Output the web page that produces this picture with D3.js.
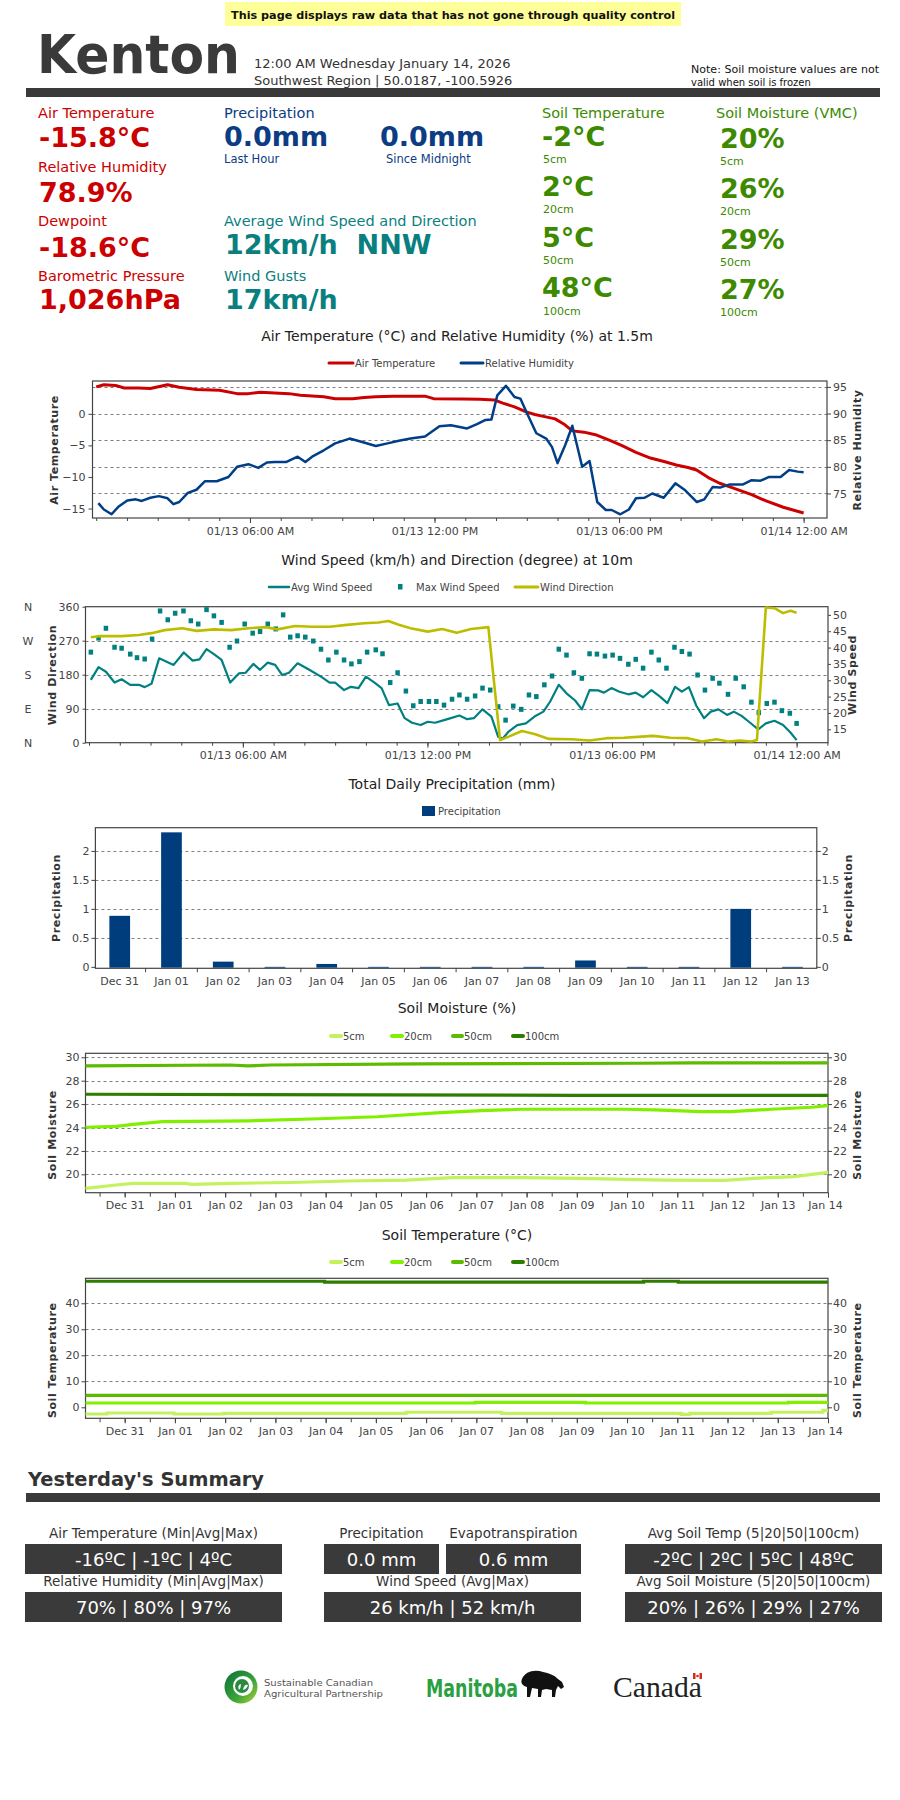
<!DOCTYPE html>
<html><head><meta charset="utf-8">
<script src="https://cdn.jsdelivr.net/npm/d3@7/dist/d3.min.js"></script>
<style>
body{margin:0;background:#fff;}
svg{font-family:"DejaVu Sans",Verdana,sans-serif;}
</style></head>
<body><svg id="page" width="900" height="1800"></svg>
<script>
// ---------------- DATA ----------------
const stationName = "Kenton";
const stampLines = ["12:00 AM Wednesday January 14, 2026", "Southwest Region | 50.0187, -100.5926"];
const nowAir = ["-15.8°C", "78.9%", "-18.6°C", "1,026hPa"];
const nowAirLabels = ["Air Temperature", "Relative Humidity", "Dewpoint", "Barometric Pressure"];
const nowPrecip = ["0.0mm", "0.0mm"];
const nowPrecipLabels = ["Last Hour", "Since Midnight"];
const nowWind = ["12km/h\u00a0\u00a0NNW", "17km/h"];
const soilDepths = ["5cm", "20cm", "50cm", "100cm"];
const nowSoilTemp = ["-2°C", "2°C", "5°C", "48°C"];
const nowSoilMoist = ["20%", "26%", "29%", "27%"];

// Chart 1: hours since 01/13 00:00
const airTempHours = [1.0,1.25,1.63,1.91,2.38,2.76,3.32,3.70,4.26,5.01,5.58,5.95,6.33,7.27,7.64,8.40,8.77,9.34,9.71,10.09,10.65,11.69,11.97,12.91,13.47,13.94,14.22,14.60,14.98,15.26,15.54,15.92,16.20,16.48,16.86,17.23,17.70,18.08,18.55,19.02,19.49,19.86,20.24,20.52,20.90,21.27,21.74,22.31,22.78,23.34,24.0];
const airTempValues = [4.27,4.6,4.5,4.1,4.1,4.0,4.6,4.2,3.85,3.75,3.2,3.2,3.4,3.2,2.95,2.7,2.4,2.4,2.6,2.7,2.8,2.8,2.4,2.35,2.3,2.2,1.7,1.1,0.3,-0.1,-0.4,-0.8,-1.6,-2.7,-2.9,-3.3,-4.2,-5.0,-6.1,-7.0,-7.6,-8.1,-8.5,-8.9,-10.1,-11.0,-11.8,-12.8,-13.8,-14.8,-15.7];
const rhHours = [1.07,1.25,1.50,1.72,2.01,2.29,2.48,2.76,3.04,3.32,3.51,3.70,3.98,4.26,4.54,4.92,5.30,5.58,5.95,6.27,6.55,6.80,7.17,7.55,7.80,8.02,8.40,8.77,9.24,9.62,10.09,10.47,10.84,11.22,11.69,12.16,12.53,13.06,13.38,13.66,13.85,14.04,14.32,14.60,14.79,15.01,15.31,15.63,15.82,16.00,16.25,16.48,16.80,17.04,17.29,17.57,17.76,18.04,18.32,18.55,18.83,19.08,19.45,19.83,20.15,20.53,20.77,21.04,21.28,21.60,22.03,22.31,22.60,22.88,23.25,23.53,23.81,24.00];
const rhValues = [73.2,72.0,71.1,72.5,73.7,73.9,73.6,74.2,74.5,74.1,73.0,73.4,75.1,75.7,77.3,77.3,78.1,80.0,80.5,79.8,80.8,80.9,80.9,81.9,80.9,81.9,83.1,84.4,85.3,84.7,83.9,84.4,84.9,85.3,85.7,87.6,87.8,87.2,88.0,88.8,88.9,93.4,95.2,93.1,92.8,90.0,86.3,85.3,83.7,80.7,84.1,87.7,80.0,81.1,73.4,71.9,71.9,71.1,72.0,74.1,74.2,75.0,74.2,76.9,75.6,73.4,73.9,76.2,76.1,76.7,76.7,77.5,77.4,78.1,78.1,79.4,79.1,79.0];
const airTempTicks = [0, -5, -10, -15];
const rhTicks = [75, 80, 85, 90, 95];

// Chart 2
const windAvgHours = [1.06,1.31,1.55,1.83,2.06,2.34,2.62,2.81,3.03,3.28,3.75,4.08,4.37,4.59,4.82,5.06,5.31,5.59,5.87,6.09,6.34,6.56,6.81,7.05,7.28,7.50,7.78,8.16,8.54,8.82,9.00,9.29,9.51,9.76,10.00,10.28,10.51,10.75,11.03,11.26,11.50,11.78,12.01,12.25,12.54,12.76,13.04,13.29,13.51,13.79,14.08,14.30,14.45,14.64,14.92,15.20,15.48,15.77,15.99,16.27,16.52,16.80,17.02,17.27,17.55,17.74,17.98,18.24,18.53,18.77,19.01,19.28,19.56,19.80,20.05,20.27,20.50,20.74,20.99,21.21,21.46,21.74,21.96,22.21,22.49,22.75,23.00,23.28,23.56,23.80,24.00];
const windAvgValues = [30.1,34.0,32.6,29.3,30.3,28.6,28.6,27.9,28.9,36.7,34.7,38.5,36.0,36.4,39.5,38.0,36.2,29.3,32.1,32.3,35.0,33.2,35.4,34.7,31.6,32.3,35.2,33.2,31.1,29.3,29.3,27.0,28.0,27.6,31.1,29.3,27.6,22.4,22.9,18.4,17.0,16.3,17.3,17.0,17.8,18.4,19.2,18.1,18.4,21.1,18.9,12.7,12.2,14.3,16.3,16.8,18.9,20.4,23.5,28.6,26.0,23.8,21.1,27.0,26.9,26.2,27.6,26.5,25.7,26.2,24.8,27.0,25.0,23.0,28.0,26.5,27.9,22.2,18.4,20.4,21.1,19.4,20.4,19.1,17.0,15.0,16.8,17.6,16.3,14.0,11.7];
const windMaxHours = [1.06,1.31,1.55,1.83,2.06,2.34,2.56,2.81,3.05,3.31,3.56,3.80,4.07,4.31,4.55,4.82,5.06,5.31,5.57,5.81,6.06,6.32,6.56,6.81,7.07,7.31,7.54,7.78,8.03,8.29,8.54,8.78,9.04,9.29,9.53,9.79,10.04,10.32,10.54,10.79,11.03,11.30,11.54,11.78,12.05,12.29,12.54,12.80,13.04,13.29,13.55,13.79,14.04,14.30,14.54,14.79,15.05,15.30,15.54,15.80,16.05,16.27,16.52,16.76,17.02,17.27,17.51,17.77,18.02,18.26,18.53,18.77,19.01,19.28,19.52,19.77,20.03,20.27,20.52,20.78,21.02,21.27,21.49,21.77,22.02,22.28,22.53,22.77,23.03,23.28,23.52,23.78,24.00];
const windMaxValues = [38.6,42.9,45.9,40.1,39.8,38.0,36.9,36.5,42.6,51.2,48.5,50.5,51.2,48.2,47.2,51.6,49.7,47.7,40.1,42.0,47.2,44.4,44.9,47.2,45.7,50.0,43.2,43.6,43.2,42.0,39.5,36.2,38.6,36.2,35.0,35.7,38.6,39.3,38.1,29.3,32.3,26.7,22.2,23.5,23.5,23.5,22.4,24.2,25.5,24.2,25.2,27.6,27.0,21.9,17.8,22.1,21.1,25.5,25.0,28.6,31.3,39.5,37.7,32.3,30.6,38.1,38.0,37.4,37.7,36.7,34.9,36.4,33.7,38.6,36.2,33.7,40.1,38.8,38.0,31.6,27.0,30.6,29.1,25.7,30.6,28.0,23.3,20.1,22.9,23.3,20.7,19.9,16.8];
const windDirHours = [1.06,1.31,2.06,2.62,3.03,3.46,4.03,4.50,5.06,5.62,6.19,6.75,7.13,7.69,8.25,8.82,9.38,9.94,10.41,10.73,11.07,11.45,12.01,12.48,12.95,13.42,13.98,14.36,14.64,15.07,15.48,15.95,16.70,17.27,17.83,18.39,18.96,19.33,19.90,20.46,20.93,21.40,21.77,22.15,22.53,22.71,23.00,23.28,23.56,23.80,24.00];
const windDirValues = [279,282,282,285,290,298,303,296,300,298,303,306,300,309,307,307,312,316,318,322,312,303,294,301,291,301,306,7,16,31,23,10,9,6,12,13,16,18,13,12,3,9,3,6,3,7,358,356,343,349,344];
const dirTicks = [0, 90, 180, 270, 360];
const compassLetters = ["N", "E", "S", "W", "N"];
const windSpeedTicks = [15, 20, 25, 30, 35, 40, 45, 50];

// Chart 3
const precipDays = ["Dec 31","Jan 01","Jan 02","Jan 03","Jan 04","Jan 05","Jan 06","Jan 07","Jan 08","Jan 09","Jan 10","Jan 11","Jan 12","Jan 13"];
const precipValues = [0.88,2.32,0.09,0,0.05,0,0,0,0,0.11,0,0,1.0,0];
const precipTicks = [0, 0.5, 1, 1.5, 2];

// Chart 4 & 5: days since Dec 31 00:00
const moist5 = [[-0.78,18.8],[-0.17,19.09],[0.17,19.23],[1.21,19.23],[1.33,19.15],[2.13,19.23],[3.29,19.3],[4.44,19.43],[5.60,19.51],[6.52,19.71],[7.91,19.71],[9.06,19.66],[9.98,19.57],[10.79,19.51],[11.94,19.48],[12.52,19.66],[13.33,19.8],[14.0,20.17]];
const moist20 = [[-0.78,24.02],[-0.17,24.1],[0.17,24.27],[0.75,24.5],[2.48,24.57],[3.87,24.75],[5.02,24.92],[6.29,25.27],[7.10,25.44],[7.91,25.56],[9.98,25.56],[10.56,25.5],[11.48,25.35],[12.06,25.35],[12.87,25.56],[13.68,25.73],[14.0,25.87]];
const moist50 = [[-0.78,29.26],[2.1,29.34],[2.45,29.26],[2.9,29.34],[5.83,29.43],[10.2,29.49],[11.3,29.52],[14.0,29.52]];
const moist100 = [[-0.78,26.84],[9.0,26.75],[14.0,26.75]];
const moistTicks = [20, 22, 24, 26, 28, 30];
const stemp5 = [[-0.78,-2.58],[-0.35,-2.2],[0.98,-2.58],[1.96,-2.3],[5.6,-1.9],[7.5,-2.3],[11.08,-2.7],[11.25,-2.3],[12.87,-1.9],[13.9,-1.2],[14.0,-1.2]];
const stemp20 = [[-0.78,1.65],[6.98,1.9],[9.17,1.65],[13.21,1.9],[14.0,1.9]];
const stemp50 = [[-0.78,4.6],[14.0,4.6]];
const stemp100 = [[-0.78,48.46],[3.98,48.1],[10.33,48.46],[11.02,48.1],[14.0,48.1]];
const stempTicks = [0, 10, 20, 30, 40];

// Summary
const summaryLabels = ["Air Temperature (Min|Avg|Max)", "Relative Humidity (Min|Avg|Max)", "Precipitation", "Evapotranspiration", "Wind Speed (Avg|Max)", "Avg Soil Temp (5|20|50|100cm)", "Avg Soil Moisture (5|20|50|100cm)"];
const summaryValues = ["-16ºC | -1ºC | 4ºC", "70% | 80% | 97%", "0.0 mm", "0.6 mm", "26 km/h | 52 km/h", "-2ºC | 2ºC | 5ºC | 48ºC", "20% | 26% | 29% | 27%"];

// ---------------- DRAWING ----------------
const svg = d3.select("#page");
const RED = "#cc0000", BLUE = "#0b3c84", TEAL = "#0a7f7f", GREEN = "#3d8a00";
const C_TEMP = "#cc0000", C_RH = "#003f87", C_AVG = "#008080", C_DIR = "#bdbd00", C_PREC = "#003d7d";
const C_S = ["#c3f25e", "#80f000", "#5cba00", "#2f7d00"];

function T(p, x, y, s, o = {}) {
  const t = p.append("text").attr("x", x).attr("y", y).text(s)
    .attr("font-size", o.size || 12).attr("fill", o.fill || "#333");
  if (o.weight) t.attr("font-weight", o.weight);
  if (o.anchor) t.attr("text-anchor", o.anchor);
  if (o.len) t.attr("textLength", o.len).attr("lengthAdjust", "spacingAndGlyphs");
  if (o.family) t.style("font-family", o.family);
  return t;
}

// Header
svg.append("rect").attr("x", 225).attr("y", 2).attr("width", 456).attr("height", 24).attr("fill", "#ffff99");
T(svg, 453, 19, "This page displays raw data that has not gone through quality control", {size: 11, weight: "bold", anchor: "middle", fill: "#111", len: 444});
T(svg, 37, 73, stationName, {size: 54, weight: "bold", fill: "#3a3a3a", len: 203});
T(svg, 254, 68, stampLines[0], {size: 13, fill: "#333"});
T(svg, 254, 85, stampLines[1], {size: 13, fill: "#333"});
T(svg, 691, 73, "Note: Soil moisture values are not", {size: 10, fill: "#111", len: 188});
T(svg, 691, 86, "valid when soil is frozen", {size: 10, fill: "#111"});
svg.append("rect").attr("x", 26).attr("y", 88).attr("width", 854).attr("height", 9).attr("fill", "#3a3a3a");

// Current conditions
const labY = [118, 172, 226, 281], valY = [147, 202, 257, 309];
nowAirLabels.forEach((l, i) => {
  T(svg, 38, labY[i], l, {size: 14.5, fill: RED});
  T(svg, 39, valY[i], nowAir[i], {size: 27, weight: "bold", fill: RED});
});
T(svg, 224, 118, "Precipitation", {size: 14.5, fill: BLUE});
T(svg, 224, 146, nowPrecip[0], {size: 27, weight: "bold", fill: BLUE});
T(svg, 380, 146, nowPrecip[1], {size: 27, weight: "bold", fill: BLUE});
T(svg, 224, 163, nowPrecipLabels[0], {size: 11.5, fill: BLUE});
T(svg, 386, 163, nowPrecipLabels[1], {size: 11.5, fill: BLUE});
T(svg, 224, 226, "Average Wind Speed and Direction", {size: 14.5, fill: TEAL});
T(svg, 225, 254, nowWind[0], {size: 27, weight: "bold", fill: TEAL});
T(svg, 224, 281, "Wind Gusts", {size: 14.5, fill: TEAL});
T(svg, 225, 309, nowWind[1], {size: 27, weight: "bold", fill: TEAL});
T(svg, 542, 118, "Soil Temperature", {size: 14.5, fill: GREEN});
T(svg, 716, 118, "Soil Moisture (VMC)", {size: 14.5, fill: GREEN});
const stY = [146, 196, 247, 297], stDY = [163, 213, 264, 315];
const smY = [148, 198, 249, 299], smDY = [165, 215, 266, 316];
soilDepths.forEach((d, i) => {
  T(svg, 542, stY[i], nowSoilTemp[i], {size: 27, weight: "bold", fill: GREEN});
  T(svg, 543, stDY[i], d, {size: 11, fill: GREEN});
  T(svg, 720, smY[i], nowSoilMoist[i], {size: 27, weight: "bold", fill: GREEN});
  T(svg, 720, smDY[i], d, {size: 11, fill: GREEN});
});

// helpers for charts
const hr = h => new Date(2026, 0, 13, 0, 0, 0).getTime() + h * 3600e3;
const dy = d => new Date(2025, 11, 31, 0, 0, 0).getTime() + d * 86400e3;
function styleAxis(sel, noDomain = true) {
  sel.selectAll("text").attr("font-size", 11).attr("fill", "#444").style("font-family", '"DejaVu Sans", Verdana, sans-serif');
  sel.selectAll("line").attr("stroke", "#444");
  if (noDomain) sel.select(".domain").remove();
}
function grid(g, y, vals, L, R) {
  g.selectAll(null).data(vals).enter().append("line")
    .attr("x1", L).attr("x2", R).attr("y1", d => Math.round(y(d)) + 0.5).attr("y2", d => Math.round(y(d)) + 0.5)
    .attr("stroke", "#808080").attr("stroke-width", 1).attr("stroke-dasharray", "3,3");
}
function frame(g, L, R, Tp, B) {
  g.append("rect").attr("x", L).attr("y", Tp).attr("width", R - L).attr("height", B - Tp)
    .attr("fill", "none").attr("stroke", "#444").attr("stroke-width", 1.2);
}
function vtitle(g, x, y, s) {
  g.append("text").attr("transform", `translate(${x},${y}) rotate(-90)`).attr("text-anchor", "middle")
    .attr("font-size", 11).attr("font-weight", "bold").attr("fill", "#333").attr("letter-spacing", 0.6).text(s);
}
function title(g, x, y, s) { T(g, x, y, s, {size: 14, anchor: "middle", fill: "#222"}); }
function legLine(g, x1, x2, y, c, w = 3) {
  g.append("line").attr("x1", x1).attr("x2", x2).attr("y1", y).attr("y2", y).attr("stroke", c).attr("stroke-width", w).attr("stroke-linecap", "round");
}

// ---- Chart 1 ----
{
  const g = svg.append("g");
  const L = 92.5, R = 827, Tp = 381, B = 518;
  const x = d3.scaleTime().domain([hr(0.88), hr(24.76)]).range([L, R]);
  const yL = d3.scaleLinear().domain([-16.5, 5.2]).range([B, Tp]);
  const yR = d3.scaleLinear().domain([70.4, 96.1]).range([B, Tp]);
  title(g, 457, 341, "Air Temperature (°C) and Relative Humidity (%) at 1.5m");
  legLine(g, 329, 353, 363, C_TEMP); T(g, 355, 367, "Air Temperature", {size: 10, fill: "#444"});
  legLine(g, 461, 483, 363, C_RH); T(g, 485, 367, "Relative Humidity", {size: 10, fill: "#444"});
  grid(g, yR, rhTicks, L, R);
  frame(g, L, R, Tp, B);
  g.append("g").attr("transform", `translate(${L},0)`).call(d3.axisLeft(yL).tickValues(airTempTicks).tickSize(4).tickPadding(3)).call(styleAxis);
  g.append("g").attr("transform", `translate(${R},0)`).call(d3.axisRight(yR).tickValues(rhTicks).tickSize(4).tickPadding(2)).call(styleAxis);
  g.append("g").attr("transform", `translate(0,${B})`).call(d3.axisBottom(x).ticks(d3.timeHour.every(1)).tickFormat("").tickSize(3)).call(styleAxis);
  g.append("g").attr("transform", `translate(0,${B})`).call(d3.axisBottom(x).ticks(d3.timeHour.every(6)).tickFormat(d3.timeFormat("%m/%d %I:%M %p")).tickSize(5).tickPadding(4)).call(styleAxis);
  vtitle(g, 58, 450, "Air Temperature");
  vtitle(g, 861, 450, "Relative Humidity");
  const lt = d3.line().x(d => x(hr(d[0]))).y(d => yL(d[1]));
  g.append("path").attr("d", lt(d3.zip(airTempHours, airTempValues))).attr("fill", "none").attr("stroke", C_TEMP).attr("stroke-width", 3).attr("stroke-linejoin", "round");
  const lr = d3.line().x(d => x(hr(d[0]))).y(d => yR(d[1]));
  g.append("path").attr("d", lr(d3.zip(rhHours, rhValues))).attr("fill", "none").attr("stroke", C_RH).attr("stroke-width", 2.5).attr("stroke-linejoin", "round");
}

// ---- Chart 2 ----
{
  const g = svg.append("g");
  const L = 85.5, R = 828, Tp = 606.7, B = 742.7;
  const x = d3.scaleTime().domain([hr(0.886), hr(25.02)]).range([L, R]);
  const yD = d3.scaleLinear().domain([0, 360]).range([B, Tp]);
  const yS = d3.scaleLinear().domain([10.9, 52.5]).range([B, Tp]);
  title(g, 457, 565, "Wind Speed (km/h) and Direction (degree) at 10m");
  legLine(g, 269, 289, 587, C_AVG, 2.5); T(g, 291, 591, "Avg Wind Speed", {size: 10, fill: "#444"});
  g.append("rect").attr("x", 398).attr("y", 584).attr("width", 4.5).attr("height", 5.5).attr("fill", C_AVG);
  T(g, 416, 591, "Max Wind Speed", {size: 10, fill: "#444"});
  legLine(g, 515, 538, 587, C_DIR, 3); T(g, 540, 591, "Wind Direction", {size: 10, fill: "#444"});
  grid(g, yD, [90, 180, 270], L, R);
  frame(g, L, R, Tp, B);
  g.append("g").attr("transform", `translate(${L},0)`).call(d3.axisLeft(yD).tickValues(dirTicks).tickSize(3).tickPadding(3)).call(styleAxis);
  g.selectAll(null).data(dirTicks).enter().append("text").attr("x", 28).attr("y", d => yD(d) + 4).attr("text-anchor", "middle")
    .attr("font-size", 11).attr("fill", "#444").text((d, i) => compassLetters[i]);
  g.append("g").attr("transform", `translate(${R},0)`).call(d3.axisRight(yS).tickValues(windSpeedTicks).tickSize(3).tickPadding(2)).call(styleAxis);
  g.append("g").attr("transform", `translate(0,${B})`).call(d3.axisBottom(x).ticks(d3.timeHour.every(1)).tickFormat("").tickSize(3)).call(styleAxis);
  g.append("g").attr("transform", `translate(0,${B})`).call(d3.axisBottom(x).ticks(d3.timeHour.every(6)).tickFormat(d3.timeFormat("%m/%d %I:%M %p")).tickSize(5).tickPadding(4)).call(styleAxis);
  vtitle(g, 56, 675, "Wind Direction");
  vtitle(g, 856, 675, "Wind Speed");
  const la = d3.line().x(d => x(hr(d[0]))).y(d => yS(d[1]));
  g.append("path").attr("d", la(d3.zip(windAvgHours, windAvgValues))).attr("fill", "none").attr("stroke", C_AVG).attr("stroke-width", 2.2).attr("stroke-linejoin", "round");
  g.selectAll(null).data(d3.zip(windMaxHours, windMaxValues)).enter().append("rect")
    .attr("x", d => x(hr(d[0])) - 2.25).attr("y", d => yS(d[1]) - 2.5).attr("width", 4.5).attr("height", 5).attr("fill", C_AVG);
  const ld = d3.line().x(d => x(hr(d[0]))).y(d => yD(d[1]));
  g.append("path").attr("d", ld(d3.zip(windDirHours, windDirValues))).attr("fill", "none").attr("stroke", C_DIR).attr("stroke-width", 2.6).attr("stroke-linejoin", "round");
}

// ---- Chart 3 ----
{
  const g = svg.append("g");
  const L = 95.4, R = 816.8, Tp = 827.7, B = 968.3;
  const x = d3.scaleBand().domain(precipDays).range([L, R]).paddingInner(0.6).paddingOuter(0.27);
  const y = d3.scaleLinear().domain([-0.025, 2.4]).range([B, Tp]);
  title(g, 452, 789, "Total Daily Precipitation (mm)");
  g.append("rect").attr("x", 422).attr("y", 806).attr("width", 13).attr("height", 10).attr("fill", C_PREC);
  T(g, 438, 815, "Precipitation", {size: 10, fill: "#444"});
  grid(g, y, [0.5, 1, 1.5, 2], L, R);
  frame(g, L, R, Tp, B);
  g.append("g").attr("transform", `translate(${L},0)`).call(d3.axisLeft(y).tickValues(precipTicks).tickFormat(d3.format("")).tickSize(4).tickPadding(2)).call(styleAxis);
  g.append("g").attr("transform", `translate(${R},0)`).call(d3.axisRight(y).tickValues(precipTicks).tickFormat(d3.format("")).tickSize(4).tickPadding(1)).call(styleAxis);
  g.append("g").attr("transform", `translate(0,${B})`).call(d3.axisBottom(x).tickSize(0).tickPadding(9)).call(styleAxis);
  const step = x.step();
  g.selectAll(null).data(precipDays.slice(1)).enter().append("line")
    .attr("x1", d => x(d) + x.bandwidth() / 2 - step / 2).attr("x2", d => x(d) + x.bandwidth() / 2 - step / 2)
    .attr("y1", B).attr("y2", B + 4).attr("stroke", "#444");
  vtitle(g, 60, 898, "Precipitation");
  vtitle(g, 852, 898, "Precipitation");
  g.selectAll(null).data(d3.zip(precipDays, precipValues)).enter().append("rect")
    .attr("x", d => x(d[0])).attr("width", x.bandwidth())
    .attr("y", d => y(d[1])).attr("height", d => B - 0.6 - y(d[1])).attr("fill", C_PREC);
}

// ---- Soil charts ----
function soilChart(o) {
  const g = svg.append("g");
  const L = 85.5, R = 828, Tp = o.top, B = o.bottom;
  const x = d3.scaleTime().domain([dy(-0.78), dy(14.0)]).range([L, R]);
  const y = d3.scaleLinear().domain(o.domain).range([B, Tp]);
  title(g, 457, o.titleY, o.title);
  const lx = [[331, 341, 343], [392, 402, 404], [453, 462, 464], [513, 523, 525]];
  soilDepths.forEach((d, i) => { legLine(g, lx[i][0], lx[i][1], o.legY, C_S[i], 4); T(g, lx[i][2], o.legY + 4, d, {size: 10, fill: "#444"}); });
  grid(g, y, o.grid, L, R);
  frame(g, L, R, Tp, B);
  g.append("g").attr("transform", `translate(${L},0)`).call(d3.axisLeft(y).tickValues(o.ticks).tickSize(4).tickPadding(2)).call(styleAxis);
  g.append("g").attr("transform", `translate(${R},0)`).call(d3.axisRight(y).tickValues(o.ticks).tickSize(4).tickPadding(1)).call(styleAxis);
  g.append("g").attr("transform", `translate(0,${B})`).call(d3.axisBottom(x).ticks(d3.timeHour.every(12)).tickFormat("").tickSize(4)).call(styleAxis);
  const xa = g.append("g").attr("transform", `translate(0,${B})`).call(d3.axisBottom(x).ticks(d3.timeDay.every(1)).tickFormat(d3.timeFormat("%b %d")).tickSize(5).tickPadding(4)).call(styleAxis);
  xa.selectAll(".tick text").filter((d, i, n) => i === n.length - 1).attr("dx", -3);
  vtitle(g, 56, (Tp + B) / 2 + 12, o.axisTitle);
  vtitle(g, 861, (Tp + B) / 2 + 12, o.axisTitle);
  const line = d3.line().x(d => x(dy(d[0]))).y(d => y(d[1])).curve(o.curve);
  o.series.forEach((s, i) => {
    g.append("path").attr("d", line(s)).attr("fill", "none").attr("stroke", C_S[i]).attr("stroke-width", 3.2);
  });
}
soilChart({top: 1053.3, bottom: 1192.7, domain: [18.43, 30.34], titleY: 1013, legY: 1036, title: "Soil Moisture (%)",
  grid: moistTicks, ticks: moistTicks, axisTitle: "Soil Moisture", series: [moist5, moist20, moist50, moist100], curve: d3.curveLinear});
soilChart({top: 1278.3, bottom: 1418.3, domain: [-4.23, 49.6], titleY: 1240, legY: 1262, title: "Soil Temperature (°C)",
  grid: [10, 20, 30, 40], ticks: stempTicks, axisTitle: "Soil Temperature", series: [stemp5, stemp20, stemp50, stemp100], curve: d3.curveStepAfter});

// ---- Summary ----
T(svg, 28, 1486, "Yesterday's Summary", {size: 20, weight: "bold", fill: "#333", len: 236});
svg.append("rect").attr("x", 26).attr("y", 1493).attr("width", 854).attr("height", 9).attr("fill", "#3a3a3a");
const boxes = [
  {x: 25, w: 257, ly: 1538, by: 1544, i: 0},
  {x: 25, w: 257, ly: 1586, by: 1592, i: 1},
  {x: 324, w: 115, ly: 1538, by: 1544, i: 2},
  {x: 446, w: 135, ly: 1538, by: 1544, i: 3},
  {x: 324, w: 257, ly: 1586, by: 1592, i: 4},
  {x: 625, w: 257, ly: 1538, by: 1544, i: 5},
  {x: 625, w: 257, ly: 1586, by: 1592, i: 6}
];
boxes.forEach(b => {
  T(svg, b.x + b.w / 2, b.ly, summaryLabels[b.i], {size: 13.5, anchor: "middle", fill: "#333"});
  svg.append("rect").attr("x", b.x).attr("y", b.by).attr("width", b.w).attr("height", 30).attr("fill", "#3a3a3a");
  T(svg, b.x + b.w / 2, b.by + 22, summaryValues[b.i], {size: 18, anchor: "middle", fill: "#fff"});
});

// ---- Logos ----
{
  const g = svg.append("g");
  const grad = svg.append("defs").append("linearGradient").attr("id", "scap").attr("x1", "0").attr("y1", "0").attr("x2", "1").attr("y2", "1");
  grad.append("stop").attr("offset", "0").attr("stop-color", "#0b6e3a");
  grad.append("stop").attr("offset", "0.6").attr("stop-color", "#3aa43a");
  grad.append("stop").attr("offset", "1").attr("stop-color", "#b5d334");
  g.append("circle").attr("cx", 241).attr("cy", 1687).attr("r", 16.5).attr("fill", "url(#scap)");
  g.append("circle").attr("cx", 243).attr("cy", 1686).attr("r", 10).attr("fill", "#fff");
  g.append("circle").attr("cx", 242).attr("cy", 1686).attr("r", 7).attr("fill", "#2a8a3c");
  g.append("path").attr("d", "M239,1690 q-2,-5 2,-6 q0,4 -2,6 M243,1690 q1,-6 5,-5 q-1,4 -5,5").attr("fill", "#fff");
  T(g, 264, 1686, "Sustainable Canadian", {size: 9.5, fill: "#555", len: 109});
  T(g, 264, 1697, "Agricultural Partnership", {size: 9.5, fill: "#555", len: 119});
  T(g, 426, 1697, "Manitoba", {size: 24, weight: "bold", fill: "#2aa043", len: 92});
  g.append("path").attr("transform", "translate(520,1670)")
    .attr("d", "M2,9 C5,1 15,-1 23,2 C29,3 34,5 38,9 L42,12 L44,17 L41,19 L38,16 L36,20 L35,27 L32,27 L32,20 L26,19 L22,20 L21,27 L18,27 L18,19 L12,18 L10,27 L7,27 L7,17 C3,16 0,13 2,9 Z")
    .attr("fill", "#111");
  T(g, 613, 1697, "Canada", {size: 30, fill: "#222", family: '"Liberation Serif", "DejaVu Serif", serif', len: 89});
  g.append("rect").attr("x", 693).attr("y", 1673).attr("width", 9).attr("height", 6).attr("fill", "#fff");
  g.append("rect").attr("x", 693).attr("y", 1673).attr("width", 2.5).attr("height", 6).attr("fill", "#d52b1e");
  g.append("rect").attr("x", 699.5).attr("y", 1673).attr("width", 2.5).attr("height", 6).attr("fill", "#d52b1e");
  g.append("circle").attr("cx", 697.5).attr("cy", 1676).attr("r", 1.3).attr("fill", "#d52b1e");
}
</script>
</body></html>
